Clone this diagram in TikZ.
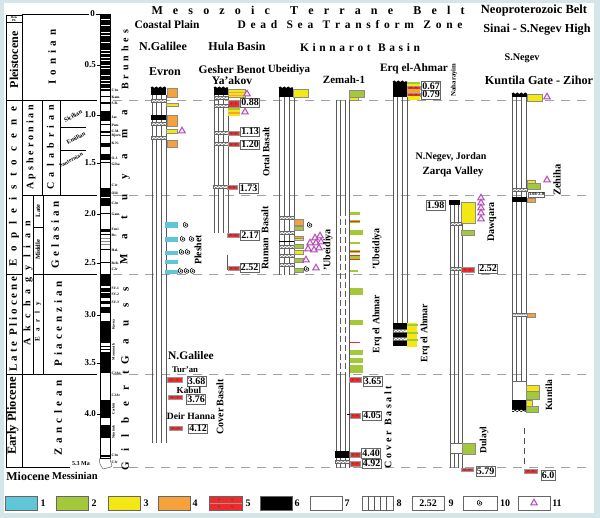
\documentclass[tikz,border=0pt]{standalone}
\usepackage{fontspec}
\setmainfont{Liberation Serif}
\usetikzlibrary{shapes.geometric,decorations.pathmorphing}
\definecolor{cCyan}{HTML}{5EC6D6}
\definecolor{cGreen}{HTML}{A3C93A}
\definecolor{cYellow}{HTML}{F3E714}
\definecolor{cOrange}{HTML}{F6A23A}
\definecolor{cRed}{HTML}{EE2A2A}
\definecolor{cPurple}{HTML}{B24FB4}
\definecolor{cFrame}{HTML}{D5E6EB}
\definecolor{cDash}{HTML}{A0A0A0}
\newcommand{\fs}[1]{\fontsize{#1}{#1}\selectfont}
\newcommand{\vcol}[4]{%
 \pgfmathsetmacro\vcA{#1+(#2-#1)/3}\pgfmathsetmacro\vcB{#1+2*(#2-#1)/3}%
 \draw[colline] (#1,#3)--(#1,#4) (\vcA,#3)--(\vcA,#4) (\vcB,#3)--(\vcB,#4) (#2,#3)--(#2,#4);}
\newcommand{\blk}[4]{\fill[black] (#1,#2) rectangle (#3,#4);}
\newcommand{\bx}[5]{\filldraw[fill=#1,draw=black!45,line width=0.25pt] (#2,#3) rectangle (#4,#5);}
\newcommand{\bas}[4]{%
 \filldraw[fill=cRed,draw=black!40,line width=0.25pt] (#1,#2) rectangle (#3,#4);
 \pgfmathsetmacro\bym{(#2+#4)/2}%
 \pgfmathsetmacro\bxa{#1+(#3-#1)*0.3}%
 \pgfmathsetmacro\bxb{#1+(#3-#1)*0.7}%
 \draw[black!75,line width=0.3pt] (\bxa-0.9,\bym-0.8)--(\bxa,\bym+0.8)--(\bxa+0.9,\bym-0.8) (\bxb-0.9,\bym-0.8)--(\bxb,\bym+0.8)--(\bxb+0.9,\bym-0.8);}
\newcommand{\brk}[3]{%
 \filldraw[fill=white,draw=black!60,line width=0.3pt] (#1,#3-1.6) rectangle (#2,#3+1.6);
 \draw[black!60,line width=0.3pt,decorate,decoration={snake,amplitude=0.7pt,segment length=3.5pt}] (#1,#3)--(#2,#3);}
\newcommand{\wtop}[3]{\draw[black,line width=1.2pt,decorate,decoration={snake,amplitude=0.8pt,segment length=4pt}] (#1,#3)--(#2,#3);}
\tikzset{
 txt/.style={inner sep=0pt,font=\bfseries\fs{11.5}},
 agebox/.style={draw=black!60,line width=0.4pt,fill=white,inner sep=0.8pt,font=\bfseries\fs{10},minimum height=9.5pt},
 maglbl/.style={inner sep=0pt,anchor=west,font=\bfseries\fs{3.6}},
 tri/.style={regular polygon,regular polygon sides=3,draw=cPurple,line width=1pt,fill=cPurple!12,minimum size=7.5pt,inner sep=0pt},
 colline/.style={black!65,line width=0.35pt},
 gridline/.style={cDash,line width=0.8pt,dash pattern=on 9pt off 7pt},
 tbl/.style={black,line width=0.5pt},
 spir/.pic={\draw[line width=0.6pt] plot[domain=0:620,samples=50,smooth] (\x:{0.0049*\x});},
}
\begin{document}
\begin{tikzpicture}[x=1pt,y=-1pt]
\fill[cFrame] (0,0) rectangle (600,518);
\fill[white] (4,3) rectangle (594,513);
\useasboundingbox (0,0) rectangle (600,518);
% ---------- dashed period lines
\foreach \yy in {100,195,274,374,467} \draw[gridline] (113,\yy)--(586,\yy);
% ---------- left table
\draw[tbl] (6,15)--(6,467) (22,14)--(22,467);
\draw[tbl] (6,15)--(22,15) (6,22)--(22,22);
\draw[tbl] (22,14)--(89,14);
\draw[tbl] (6,100)--(97,100) (22,195)--(97,195) (6,274)--(22,274) (33,274)--(97,274) (6,374)--(97,374) (6,467)--(70,467);
\draw[tbl] (42,100)--(42,195) (60,100)--(60,195) (33,195)--(33,374) (43,195)--(43,374);
\draw[tbl] (60,127)--(86,127) (60,150)--(86,150) (33,227)--(43,227);
\node[inner sep=0,font=\bfseries\fs{3}] (holo) at (14,17) {Holo};
\node[inner sep=0,font=\bfseries\fs{3}] (ple) at (14,20.5) {Ple};
\node[txt,rotate=90,font=\bfseries\fs{12}] (pleist) at (14,60) {Pleistocene};
\node[txt,rotate=90,font=\bfseries\fs{11}] (ionian) at (52,57) {\makebox[55pt][s]{I o n i a n}};
\node[txt,rotate=90,font=\bfseries\fs{11}] (eopl) at (14,187) {\makebox[160pt][s]{E o p l e i s t o c e n e}};
\node[txt,rotate=90,font=\bfseries\fs{10}] (aps) at (31,147) {\makebox[85pt][s]{A p s h e r o n i a n}};
\node[txt,rotate=90,font=\bfseries\fs{10}] (cal) at (50.5,147) {\makebox[85pt][s]{C a l a b r i a n}};
\node[txt,rotate=28,font=\bfseries\fs{6.2}] (sic) at (73,116) {Sicilian};
\node[txt,rotate=28,font=\bfseries\fs{6}] (emi) at (76,138) {Emilian};
\node[txt,rotate=28,font=\bfseries\fs{5.5}] (san) at (71,160) {Santernian};
\node[txt,rotate=90,font=\bfseries\fs{10}] (akch) at (28,283) {\makebox[125pt][s]{A k c h a g y l i a n}};
\node[txt,rotate=90,font=\bfseries\fs{6.5}] (late) at (38,211) {Late};
\node[txt,rotate=90,font=\bfseries\fs{6.5}] (mid) at (38,250) {Middle};
\node[txt,rotate=90,font=\bfseries\fs{7}] (early) at (38,322) {\makebox[40pt][s]{E a r l y}};
\node[txt,rotate=90,font=\bfseries\fs{11}] (gel) at (55,235) {\makebox[68pt][s]{G e l a s i a n}};
\node[txt,rotate=90,font=\bfseries\fs{11}] (pia) at (58,324) {\makebox[85pt][s]{P i a c e n z i a n}};
\node[txt,rotate=90,font=\bfseries\fs{11}] (zan) at (58,418) {\makebox[75pt][s]{Z a n c l e a n}};
\node[txt,rotate=90,font=\bfseries\fs{11}] (lplio) at (13,324) {\makebox[95pt][s]{L a t e \ P l i o c e n e}};
\node[txt,rotate=90,font=\bfseries\fs{12.5}] (eplio) at (13,416) {Early Pliocene};
\node[txt,font=\bfseries\fs{12}] (mio) at (28,476) {Miocene};
\node[txt,font=\bfseries\fs{10.5}] (mess) at (75,476) {Messinian};
\node[txt,font=\bfseries\fs{6}] (ma53) at (81,464) {5.3 Ma};
% ---------- time ticks
\node[txt,font=\bfseries\fs{9},anchor=east] (t0) at (95,14) {0};
\foreach \yy/\lab [count=\i] in {65/0.5,115/1.0,163/1.5,214/2.0,263/2.5,315/3.0,363/3.5,414/4.0}{
 \node[txt,font=\bfseries\fs{9},anchor=east] (tick\i) at (96,\yy) {\lab};
 \draw[black,line width=0.5pt] (96.5,\yy)--(100,\yy);}
\draw[black,line width=0.5pt] (95.5,14)--(100,14);
% ---------- magnetic column
\draw[black,line width=0.4pt] (100,14) rectangle (110,458);
\fill[black] (100,14) rectangle (110,91);
\foreach \yy in {19,25,32,35,42,50,53,57,60,65,68,75,80,83,88} \draw[white,line width=0.7pt] (100,\yy)--(110,\yy);
\foreach \a/\b in {96.5/97.5,102/104,111/121,124.5/125.5,131/133,135/136,143/147,154/160,162.5/163.5,188/197,198.5/206,213.5/214.5,229.5/232,234.5/235.5,249.5/250.5,262.5/263.5}
 \fill[black] (100,\a) rectangle (110,\b);
\foreach \yy in {238,241,244} \draw[black!45,line width=0.6pt] (100,\yy)--(110,\yy);
\fill[black] (100,274) rectangle (110,373);
\foreach \a/\b in {286.5/288,292/293.5,298.5/301,304/307,313/321,343/352} \fill[white] (100,\a) rectangle (110,\b);
\foreach \yy in {346,349} \draw[black,line width=0.6pt] (100,\yy)--(110,\yy);
\foreach \a/\b in {400/418,425/438,455/457} \fill[black] (100,\a) rectangle (110,\b);
\draw[black,line width=0.4pt] (100,14) rectangle (110,458);
\draw[black!70,line width=0.4pt] (100,458) .. controls (98,462) and (101,466) .. (103,469) .. controls (106,467) and (109,469) .. (112,466) .. controls (111,463) and (110,460) .. (110,458);
\foreach \yy/\lab [count=\i] in {90/C1n,97/Kam.,103/S.R.,117/Jar.,125/Pun.,131/C.M.,136/Bjorn,143/K.N.,158/O.J.,164/Gilsa,185/C1r,193/Old.,203/C2n,214/Gam.,229/Feni,235/Re.,250/Hal.,263/Reh.,269/C2r,288/SV-1,294/SV-2,302/SV-3,373/C2An,395/C2Ar,455/C3n,462/C3r}
 \node[maglbl] (mg\i) at (111.5,\yy) {\lab};
\node[maglbl,rotate=90,anchor=center] (kaena) at (113.5,325) {Kaena};
\node[maglbl,rotate=90,anchor=center] (mammoth) at (113.5,352) {Mammoth};
\node[maglbl,rotate=90,anchor=center] (cochiti) at (113.5,409) {Cochiti};
\node[maglbl,rotate=90,anchor=center] (nunivak) at (113.5,432) {Nunivak};
\node[txt,rotate=90,font=\bfseries\fs{10}] (brun) at (125,60) {\makebox[60pt][s]{B r u n h e s}};
\node[txt,rotate=90,font=\bfseries\fs{11}] (matu) at (125,187) {\makebox[155pt][s]{M a t u y a m a}};
\node[txt,rotate=90,font=\bfseries\fs{11}] (gauss) at (125,326) {\makebox[78pt][s]{G a u s s}};
\node[txt,rotate=90,font=\bfseries\fs{11}] (gilb) at (125,421) {\makebox[100pt][s]{G i l b e r t}};
% ---------- headings
\node[txt,font=\bfseries\fs{12}] (meso) at (308,10) {\makebox[313pt][s]{M e s o z o i c \ T e r r a n e \ B e l t}};
\node[txt,font=\bfseries\fs{12.5}] (neo) at (534,10) {Neoproterozoic Belt};
\node[txt,font=\bfseries\fs{11.4}] (coast) at (167,25) {Coastal Plain};
\node[txt,font=\bfseries\fs{11.5}] (dst) at (350,25) {\makebox[225pt][s]{D e a d \ S e a \ T r a n s f o r m \ Z o n e}};
\node[txt,font=\bfseries\fs{12.2}] (sinai) at (537,30) {Sinai - S.Negev High};
\node[txt,font=\bfseries\fs{12}] (ngal) at (163,46) {N.Galilee};
\node[txt,font=\bfseries\fs{12}] (hula) at (237,46) {Hula Basin};
\node[txt,font=\bfseries\fs{11.5}] (kinn) at (360,48) {\makebox[120pt][s]{K i n n a r o t \ B a s i n}};
\node[txt,font=\bfseries\fs{10.2}] (sneg) at (522,58) {S.Negev};
\node[txt,font=\bfseries\fs{12}] (evron) at (165,72) {Evron};
\node[txt,font=\bfseries\fs{11.5}] (gesher) at (232,70) {Gesher Benot};
\node[txt,font=\bfseries\fs{11.5}] (yaakov) at (232,81) {Ya’akov};
\node[txt,font=\bfseries\fs{11}] (ubei) at (289,70) {Ubeidiya};
\node[txt,font=\bfseries\fs{11}] (zemah) at (344,80) {Zemah-1};
\node[txt,font=\bfseries\fs{11.3}] (erq) at (414,69) {Erq el-Ahmar};
\node[txt,font=\bfseries\fs{12.2}] (kunt) at (539,80) {Kuntila Gate - Zihor};
\node[txt,rotate=90,font=\bfseries\fs{6.8}] (nahar) at (454,80) {Naharayim};
\node[txt,font=\bfseries\fs{10}] (nneg) at (451,157) {N.Negev, Jordan};
\node[txt,font=\bfseries\fs{11}] (zarqa) at (453,172) {Zarqa Valley};
% ---------- Evron
\vcol{152}{166}{95}{443}
\blk{151}{88}{166}{95}\wtop{151}{166}{88}
\bx{cOrange}{167}{88}{177}{97}
\brk{151}{166}{101}
\bx{cYellow}{166}{103}{178}{106}
\blk{151}{115}{166}{120}
\bx{cOrange}{167}{115}{177}{126}
\brk{151}{166}{124}
\bx{cYellow}{166}{129}{177}{133}
\node[tri] (ev-t1) at (182,131) {};
\brk{151}{166}{138}
\bx{cOrange}{167}{140}{177}{147}
\foreach \a/\b in {222/228,237/242,251/255,260/264,270/274} \fill[cCyan] (165,\a) rectangle (178,\b);
\foreach \px/\py in {186/225,183/239,192/239,182/252,188/252,181/271,187/271,193/271} \pic at (\px,\py) {spir};
\node[txt,rotate=90,font=\bfseries\fs{9.8}] (plesh) at (198,250) {Pleshet};
% N.Galilee cover basalt
\node[txt,font=\bfseries\fs{11.5}] (ngal2) at (191,356) {N.Galilee};
\node[txt,font=\bfseries\fs{8.7}] (turan) at (185,370) {Tur’an};
\bas{167}{377}{182}{382}
\node[agebox] (a368) at (196.5,381) {3.68};
\node[txt,font=\bfseries\fs{9.2}] (kabul) at (189,390) {Kabul};
\bas{168}{395}{182}{399}
\node[agebox] (a376) at (196,399) {3.76};
\node[txt,font=\bfseries\fs{9.6}] (deir) at (191,416) {Deir Hanna};
\bas{169}{426}{182}{430}
\node[agebox] (a412) at (198,428.5) {4.12};
\node[txt,rotate=90,font=\bfseries\fs{10}] (cover1) at (220,407) {Cover Basalt};
% ---------- Gesher Benot Ya'akov
\vcol{214}{228}{95}{233}
\blk{214}{88}{228}{95}\wtop{214}{228}{88}
\bx{cYellow}{228}{89}{245}{97}
\draw[cOrange,line width=0.8pt] (228,92)--(245,92) (228,95)--(245,95);
\node[tri] (gb-t1) at (247,94) {};
\brk{214}{228}{98}
\bas{228}{100}{239}{107}
\node[agebox] (a088) at (250,102.5) {0.88};
\brk{214}{228}{106}
\fill[cGreen] (228,108) rectangle (240,110);
\fill[cYellow] (228,110) rectangle (240,112);
\fill[cOrange] (228,112) rectangle (240,114);
\fill[cYellow] (228,114) rectangle (240,116);
\node[tri] (gb-t2) at (245,112) {};
\brk{214}{228}{133}
\bas{228}{131}{239}{135}
\node[agebox] (a113) at (250,131.5) {1.13};
\brk{214}{228}{144}
\bas{228}{142}{239}{146}
\node[agebox] (a120) at (250,144.5) {1.20};
\node[txt,rotate=90,font=\bfseries\fs{9.5}] (ortal) at (266,152) {Ortal Basalt};
\brk{213}{227}{187}
\bas{227}{185}{237}{189}
\node[agebox] (a173) at (248.5,188) {1.73};
\bas{227}{233}{239}{237}
\node[agebox] (a217) at (250,235) {2.17};
\draw[colline] (227,255)--(227,270);
\bas{228}{266}{239}{270}
\node[agebox] (a252a) at (249.5,267.5) {2.52};
\node[txt,rotate=90,font=\bfseries\fs{10}] (ruman) at (265,238) {Ruman\ \ Basalt};
% ---------- Ubeidiya
\vcol{279}{294}{95}{275}
\blk{279}{88}{293}{97}\wtop{279}{293}{88}
\bx{cYellow}{293}{89}{308}{97}
\foreach \yy in {218,233,247,256,265} \brk{279}{294}{\yy}
\draw[black,line width=1pt] (279,242)--(294,242);
\bx{cOrange}{294}{219}{303}{225}
\bx{cGreen}{294}{226}{303}{230}
\bx{cOrange}{294}{236}{303}{238}
\bx{cYellow}{294}{238}{303}{240}
\bx{cGreen}{294}{244}{303}{248}
\bx{cYellow}{294}{250}{303}{254}
\bx{cGreen}{294}{258}{303}{262}
\bx{cGreen}{294}{268}{303}{272}
\pic at (310,225) {spir};
\pic at (307,269) {spir};
\foreach \px/\py [count=\i] in {315/238,320/236,310/243,316/243,321/242,308/249,314/250,319/248,306/260,316/268}
 \node[tri] (ub-t\i) at (\px,\py) {};
\node[txt,rotate=90,font=\bfseries\fs{10}] (ubei2) at (328,250) {’Ubeidiya};
% ---------- Zemah-1
\bx{cGreen}{349}{90}{364}{97}
\bx{cYellow}{349}{97}{358}{100}
\draw[colline] (336,100)--(336,468) (349,100)--(349,468);
\draw[colline] (340.5,100)--(340.5,210) (345,100)--(345,210) (340.5,375)--(340.5,468) (345,375)--(345,468);
\draw[colline,dash pattern=on 6pt off 3pt] (340.5,210)--(340.5,375) (345,210)--(345,375);
\foreach \a/\b/\c in {212/215/360,220/223/360,230/235/363,242/244/360,250/253/360,256/259/360,270/272/358,288/295/363,320/325/363,350/355/363,358/363/363,365/373/363}
 \fill[cGreen] (350,\a) rectangle (\c,\b);
\foreach \yy in {221,251,255,259,342} \draw[cRed,line width=0.9pt] (350,\yy)--(360,\yy);
\bas{349}{377}{361}{382}
\node[agebox] (a365) at (372.5,381) {3.65};
\draw[black,line width=0.6pt] (347,414)--(350,414);
\bas{350}{413}{360}{418}
\node[agebox] (a405) at (372,415.5) {4.05};
\blk{335}{451}{349}{458}
\brk{335}{349}{462}
\bas{350}{452}{360}{457}
\node[agebox] (a440) at (371,453) {4.40};
\bas{350}{461}{360}{466}
\node[agebox] (a492) at (371.5,463.5) {4.92};
\node[txt,rotate=90,font=\bfseries\fs{10}] (ubei3) at (377,249) {’Ubeidiya};
\node[txt,rotate=90,font=\bfseries\fs{9.8}] (erq2) at (377,324) {Erq el Ahmar};
\node[txt,rotate=90,font=\bfseries\fs{10}] (cover2) at (388,427) {\makebox[82pt][s]{C o v e r \ B a s a l t}};
% ---------- Erq el-Ahmar
\blk{393}{82}{407}{97}\wtop{393}{407}{82}
\fill[cGreen] (407,82) rectangle (420,84);
\fill[cYellow] (407,84) rectangle (420,86);
\bas{407}{86}{420}{89}
\fill[cOrange] (407,89) rectangle (420,93);
\bas{407}{93}{420}{96}
\fill[cYellow] (407,96) rectangle (420,100);
\node[agebox] (a067) at (431,86) {0.67};
\node[agebox] (a079) at (431,94.5) {0.79};
\vcol{393}{407}{97}{323}
\blk{393}{323}{407}{346}
\brk{393}{407}{331}
\brk{393}{407}{339}
\fill[cYellow] (407,323) rectangle (417,347);
\foreach \yy in {325,333,340} \draw[cGreen,line width=1.2pt] (407,\yy)--(418,\yy);
\node[txt,rotate=90,font=\bfseries\fs{9.8}] (erq3) at (425,333) {Erq el Ahmar};
% ---------- Zarqa Valley
\node[agebox] (a198) at (435.5,205) {1.98};
\blk{449}{200}{460}{205}
\vcol{450}{462}{205}{468}
\bx{cYellow}{461}{202}{475}{223}
\foreach \py [count=\i] in {198,203,208,213,219} \node[tri] (zq-t\i) at (481,\py) {};
\node[txt,rotate=90,font=\bfseries\fs{10}] (dawq) at (492,222) {Dawqara};
\brk{450}{461}{224}
\bx{cGreen}{461}{230}{474}{235}
\brk{450}{461}{269}
\bas{461}{267}{474}{272}
\node[agebox] (a252b) at (488,268.5) {2.52};
\filldraw[fill=white,draw=black!60,line width=0.3pt] (450,443) rectangle (462,453);
\bx{cGreen}{462}{443}{475}{454}
\node[txt,rotate=90,font=\bfseries\fs{9.5}] (dulayl) at (484,440) {Dulayl};
\bas{461}{468}{473}{471}
\node[agebox] (a579) at (485.5,471) {5.79};
% ---------- Kuntila
\blk{512}{94}{527}{97}\wtop{512}{527}{94}
\bx{cYellow}{527}{94}{542}{101}
\node[tri] (ku-t1) at (547,97) {};
\vcol{512}{526}{97}{381}
\bx{cYellow}{527}{180}{535}{183}
\bx{cGreen}{527}{183}{540}{189}
\node[tri] (ku-t2) at (547,180) {};
\brk{512}{527}{190}
\node[agebox,font=\bfseries\fs{4.5},inner sep=0.5pt,minimum height=5pt] (a166) at (536.5,194.5) {1.66-2.0};
\blk{512}{197}{527}{202}
\bx{cOrange}{527}{198}{535}{202}
\node[txt,rotate=90,font=\bfseries\fs{10.5}] (zeh) at (557,180) {Zehiha};
\brk{512}{527}{314.5}
\bx{cOrange}{527}{313}{535}{317}
\filldraw[fill=white,draw=black!60,line width=0.3pt] (512,381) rectangle (526,400);
\blk{512}{400}{526}{412}
\draw[white,line width=0.8pt,decorate,decoration={snake,amplitude=0.8pt,segment length=4pt}] (512,411)--(526,411);
\bx{cYellow}{526}{385}{539}{391}
\bx{cGreen}{526}{391}{539}{399}
\bx{cYellow}{526}{400}{532}{406}
\bx{cGreen}{526}{406}{538}{412}
\node[txt,rotate=90,font=\bfseries\fs{9.5}] (kunt2) at (549,395) {Kuntila};
\draw[black!70,line width=0.5pt,dash pattern=on 6pt off 4pt] (524,428)--(524,466);
\bas{524}{469}{537}{473}
\node[agebox] (a60) at (548,475) {6.0};
% ---------- legend
\tikzset{legbox/.style={draw=black!60,line width=0.4pt}}
\filldraw[legbox,fill=cCyan] (5,496) rectangle (37,510);
\node[txt,font=\bfseries\fs{10}] (l1) at (43,503) {1};
\filldraw[legbox,fill=cGreen] (56,496) rectangle (88,510);
\node[txt,font=\bfseries\fs{10}] (l2) at (94,503) {2};
\filldraw[legbox,fill=cYellow] (108,496) rectangle (140,510);
\node[txt,font=\bfseries\fs{10}] (l3) at (146,503) {3};
\filldraw[legbox,fill=cOrange] (158,496) rectangle (190,510);
\node[txt,font=\bfseries\fs{10}] (l4) at (195,503) {4};
\bas{209}{496}{242}{503}
\bas{209}{503}{242}{510}
\draw[legbox] (209,496) rectangle (242,510);
\node[txt,font=\bfseries\fs{10}] (l5) at (248,503) {5};
\filldraw[legbox,fill=black] (260,496) rectangle (292,510);
\node[txt,font=\bfseries\fs{10}] (l6) at (297,503) {6};
\draw[legbox] (310,496) rectangle (342,510);
\node[txt,font=\bfseries\fs{10}] (l7) at (347,503) {7};
\draw[legbox] (362,496) rectangle (393,510);
\foreach \xx in {368,374,380,386} \draw[colline] (\xx,496)--(\xx,510);
\node[txt,font=\bfseries\fs{10}] (l8) at (399,503) {8};
\node[agebox,minimum width=32pt,minimum height=14pt] (l9box) at (428,503) {2.52};
\node[txt,font=\bfseries\fs{10}] (l9) at (451,503) {9};
\draw[legbox] (463,496) rectangle (497,510);
\pic at (480,503) {spir};
\node[txt,font=\bfseries\fs{10}] (l10) at (505,503) {10};
\draw[legbox] (518,496) rectangle (550,510);
\node[tri] (l11tri) at (534,503) {};
\node[txt,font=\bfseries\fs{10}] (l11) at (557,503) {11};
\end{tikzpicture}
\end{document}
